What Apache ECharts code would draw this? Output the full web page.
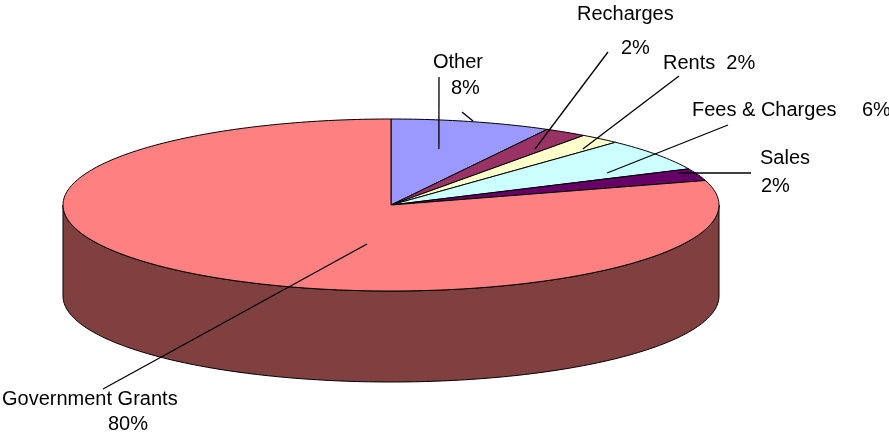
<!DOCTYPE html>
<html><head><meta charset="utf-8">
<script src="https://cdn.jsdelivr.net/npm/echarts/dist/echarts.min.js"></script>
<style>html,body{margin:0;padding:0;background:#fff}#c{width:889px;height:437px}</style>
</head><body><div id="c"></div>
<script>
// ---- data ----
const categories = ['Other', 'Recharges', 'Rents', 'Fees & Charges', 'Sales', 'Government Grants'];
const values = [7.9, 2.1, 2.0, 6.1, 2.3, 79.6];
const topColors = ['#9999FF', '#993366', '#FFFFCC', '#CCFFFF', '#660066', '#FF8080'];
const sideColors = ['#4D4D80', '#4D1A33', '#808066', '#668080', '#330033', '#804040'];

// ---- layout (pixels / unit-ellipse coords) ----
const PIE = { cx: 391, cy: 205, rx: 328, ry: 86, depth: 91 };
// lines: each label line [kind, left x, middle y]; kind 'name' | 'pct' | 'both2'
const labelLayout = [
  { lines: [['name', 433, 62], ['pct', 451, 88]], leads: [[439, 77, 0.146, -0.651], [462, 112, 0.25, -0.977]] },
  { lines: [['name', 577, 14], ['pct', 621, 48]], leads: [[608, 52, 0.439, -0.651]] },
  { lines: [['both2', 663, 63]], leads: [[679, 76, 0.585, -0.651]] },
  { lines: [['name', 692, 110], ['pct', 862, 110]], leads: [[728, 125, 0.659, -0.372]] },
  { lines: [['name', 760, 158], ['pct', 761, 186]], leads: [[751, 173, 0.878, -0.372]] },
  { lines: [['name', 2, 399], ['pct', 108, 424]], leads: [[103, 389, -0.073, 0.453]] }
];

const total = values.reduce((s, v) => s + v, 0);
const starts = [];
let acc = 0;
values.forEach(v => { starts.push(acc); acc += v; });

function pt(aDeg, dy) {
  const t = (90 - aDeg) * Math.PI / 180;
  return [PIE.cx + PIE.rx * Math.cos(t), PIE.cy - PIE.ry * Math.sin(t) + (dy || 0)];
}
function arc(a0, a1, dy) {
  const pts = [];
  const n = Math.max(2, Math.ceil(Math.abs(a1 - a0)));
  for (let k = 0; k <= n; k++) pts.push(pt(a0 + (a1 - a0) * k / n, dy));
  return pts;
}

function renderSlice(params, api) {
  const i = params.dataIndex;
  const v = api.value(1);
  const a0 = starts[i] / total * 360;
  const a1 = (starts[i] + v) / total * 360;
  const children = [];
  const s0 = Math.max(a0, 90), s1 = Math.min(a1, 270);
  if (s1 > s0) {
    const top = arc(s0, s1, 0);
    const bot = arc(s0, s1, PIE.depth).reverse();
    children.push({
      type: 'polygon', shape: { points: top.concat(bot) },
      style: { fill: sideColors[i], stroke: '#000', lineWidth: 1 }
    });
  }
  children.push({
    type: 'polygon', shape: { points: [[PIE.cx, PIE.cy]].concat(arc(a0, a1, 0)) },
    style: { fill: topColors[i], stroke: '#000', lineWidth: 1, lineJoin: 'round' }
  });
  return { type: 'group', children };
}

function renderLabel(params, api) {
  const i = params.dataIndex;
  const v = api.value(1);
  const pct = Math.round(v / total * 100) + '%';
  const L = labelLayout[i];
  const children = [];
  L.leads.forEach(ld => {
    const ex = PIE.cx + ld[2] * PIE.rx, ey = PIE.cy + ld[3] * PIE.ry;
    children.push({
      type: 'line', shape: { x1: ld[0], y1: ld[1], x2: ex, y2: ey },
      style: { stroke: '#000', lineWidth: 1.3 }
    });
  });
  L.lines.forEach(ln => {
    let txt;
    if (ln[0] === 'name') txt = categories[i];
    else if (ln[0] === 'pct') txt = pct;
    else txt = categories[i] + '  ' + pct;
    children.push({
      type: 'text', x: ln[1], y: ln[2],
      style: {
        text: txt, fill: '#000', fontSize: 20,
        fontFamily: '"Liberation Sans", Arial, sans-serif',
        align: 'left', verticalAlign: 'middle',
        textAlign: 'left', textVerticalAlign: 'middle'
      }
    });
  });
  return { type: 'group', children };
}

const seriesData = categories.map((c, i) => ({ name: c, value: [i, values[i]] }));

const chart = echarts.init(document.getElementById('c'), null, { renderer: 'canvas' });
chart.setOption({
  animation: false,
  backgroundColor: '#fff',
  series: [
    { type: 'custom', coordinateSystem: 'none', silent: true, renderItem: renderSlice, data: seriesData, z: 1 },
    { type: 'custom', coordinateSystem: 'none', silent: true, renderItem: renderLabel, data: seriesData, z: 3 }
  ]
});
</script>
</body></html>
